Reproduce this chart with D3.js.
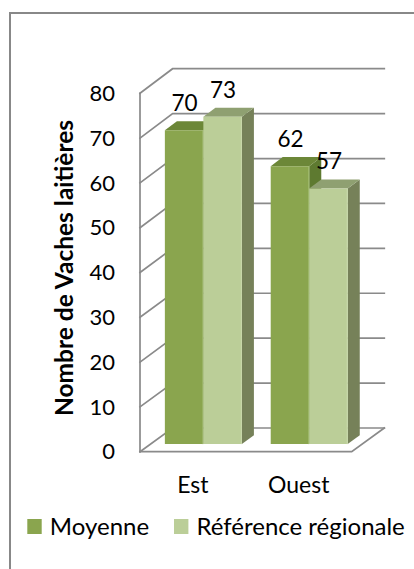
<!DOCTYPE html>
<html>
<head>
<meta charset="utf-8">
<script src="https://cdn.jsdelivr.net/npm/d3@7"></script>
<style>
  html, body { margin: 0; padding: 0; background: #fff; }
  svg { display: block; font-family: Lato, "Open Sans", sans-serif; }
</style>
</head>
<body>
<svg id="chart" width="414" height="569"></svg>
<script>
// Data
const categories = ["Est", "Ouest"];
const seriesNames = ["Moyenne", "Référence régionale"];
const moyenne = [70, 62];
const reference = [73, 57];
const yTicks = [0, 10, 20, 30, 40, 50, 60, 70, 80];

const seriesValues = [moyenne, reference];
const faceColors = [
  { front: "#8AA54E", top: "#6C8738", side: "#5E7A30", edge: "#A2BB72" },
  { front: "#BBCE98", top: "#8FA071", side: "#768159", edge: "#C9D9AA" }
];

const svg = d3.select("#chart");

// Chart frame
svg.append("rect")
  .attr("x", 10).attr("y", 13)
  .attr("width", 430).attr("height", 600)
  .attr("fill", "none").attr("stroke", "#888").attr("stroke-width", 2);

// Oblique 3-D projection: front plane scales plus a depth offset
const DX = 32.6;
const yFront = d3.scaleLinear().domain([0, 80]).range([451.7, 93.3]);
const yBack = d3.scaleLinear().domain([0, 80]).range([428.0, 68.7]);
const xFront = d3.scaleBand().domain(categories).range([140, 351.7]).padding(0);
const xSeries = d3.scaleBand().domain(seriesNames)
  .range([0, xFront.bandwidth()]).paddingInner(0).paddingOuter(0.375);

function P(x, v, d) {
  return [x + DX * d, yFront(v) * (1 - d) + yBack(v) * d];
}
const line = d3.line();

// Walls and gridlines
const grid = svg.append("g").attr("stroke", "#8A8A8A").attr("stroke-width", 1.7)
  .attr("fill", "none").attr("stroke-linecap", "square");
const xL = xFront.range()[0], xR = xFront.range()[1];
grid.append("path").attr("d", line([P(xL, 0, 0), P(xL, 80, 0)]));
yTicks.forEach(v => {
  grid.append("path").attr("d", line([P(xL, v, 0), P(xL, v, 1), P(xR, v, 1)]));
});
grid.append("path").attr("d", line([P(xL, 0, 0), P(xR, 0, 0), P(xR, 0, 1)]));

// Y axis tick labels
svg.append("g").selectAll("text").data(yTicks).join("text")
  .attr("x", 115).attr("y", d => yFront(d))
  .attr("dy", "0.35em")
  .attr("text-anchor", "end")
  .attr("font-size", 22).attr("fill", "#000")
  .text(d => d);

// Axis title
svg.append("text")
  .attr("transform", "translate(73,268) rotate(-90)")
  .attr("text-anchor", "middle")
  .attr("font-size", 24.5).attr("font-weight", "bold").attr("fill", "#000")
  .text("Nombre de Vaches laitières");

// Bars
const D1 = 0.32, D2 = 0.69;
const bars = svg.append("g");
const labels = [];
categories.forEach((cat, ci) => {
  seriesNames.forEach((s, si) => {
    const v = seriesValues[si][ci];
    const xl = xFront(cat) + xSeries(s);
    const xr = xl + xSeries.bandwidth();
    const c = faceColors[si];
    const g = bars.append("g");
    g.append("path").attr("fill", c.side)
      .attr("d", line([P(xr, 0, D1), P(xr, 0, D2), P(xr, v, D2), P(xr, v, D1)]) + "Z");
    g.append("path").attr("fill", c.top)
      .attr("d", line([P(xl, v, D1), P(xr, v, D1), P(xr, v, D2), P(xl, v, D2)]) + "Z");
    g.append("path").attr("fill", c.front)
      .attr("d", line([P(xl, 0, D1), P(xr, 0, D1), P(xr, v, D1), P(xl, v, D1)]) + "Z");
    g.append("path").attr("stroke", c.edge).attr("stroke-width", 1).attr("fill", "none")
      .attr("d", line([P(xr - 0.5, 0, D1), P(xr - 0.5, v, D1)]));
    const top = P((xl + xr) / 2, v, D1);
    labels.push({ x: top[0] + 0.5, y: top[1] - 27, v });
  });
});

// Value labels
svg.append("g").selectAll("text").data(labels).join("text")
  .attr("x", d => d.x).attr("y", d => d.y)
  .attr("dy", "0.35em")
  .attr("text-anchor", "middle")
  .attr("font-size", 22.5).attr("fill", "#000")
  .text(d => d.v);

// Category labels
svg.append("g").selectAll("text").data(categories).join("text")
  .attr("x", d => xFront(d) + xFront.bandwidth() / 2)
  .attr("y", 493)
  .attr("text-anchor", "middle")
  .attr("font-size", 23).attr("fill", "#000")
  .text(d => d);

// Legend
const legendX = [27.3, 174];
const legend = svg.append("g").selectAll("g").data(seriesNames).join("g")
  .attr("transform", (d, i) => `translate(${legendX[i]},0)`);
legend.append("rect")
  .attr("x", 0).attr("y", 519).attr("width", 14.4).attr("height", 15)
  .attr("fill", (d, i) => faceColors[i].front);
legend.append("text")
  .attr("x", 22.5).attr("y", 535)
  .attr("font-size", 24).attr("fill", "#000")
  .text(d => d);
</script>
</body>
</html>
